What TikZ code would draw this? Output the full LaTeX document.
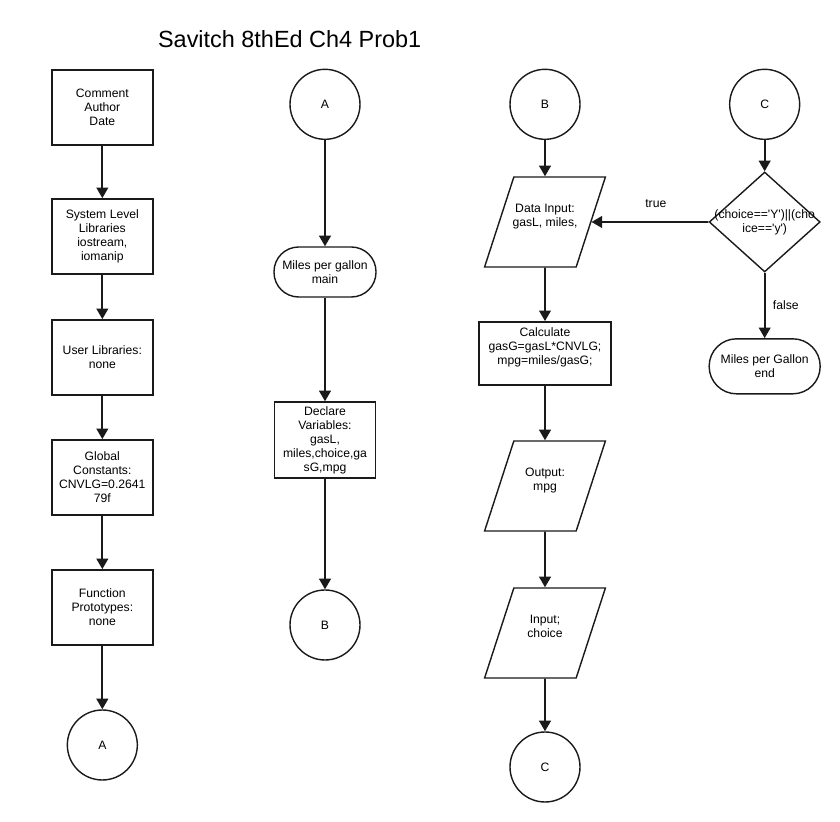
\documentclass[tikz,border=0pt]{standalone}
\usepackage{fontspec}
\setmainfont{Liberation Sans}
\newfontfamily\decfont{Liberation Sans}[Ligatures=TeXOff]
\definecolor{fcLine}{HTML}{1A1A1A}
\usetikzlibrary{positioning,arrows.meta,shapes.geometric}
\newcommand{\fcfont}{\fontsize{10.4}{11.9}\selectfont}
\newcommand{\iotext}[1]{\parbox[c][2.7cm][c]{1.87cm}{\centering #1}}

\tikzset{
  fcbox/.style={draw=fcLine, line width=1.2pt, minimum width=3.03cm, minimum height=2.25cm, align=center, font=\fcfont},
  fcconn/.style={draw=fcLine, circle, line width=1.2pt, minimum size=2.1cm, inner sep=0pt, font=\fcfont},
  fcterm/.style={draw=fcLine, line width=1.2pt, rounded corners=7.4mm, minimum width=3.06cm, minimum height=1.5cm, inner sep=1pt, align=center, font=\fcfont},
  fcio/.style={draw=fcLine, line width=1.2pt, trapezium, trapezium left angle=72, trapezium right angle=108, inner sep=0pt, font=\fcfont},
  fcdec/.style={draw=fcLine, line width=1.2pt, diamond, minimum width=3.33cm, minimum height=3cm, inner sep=0pt},
  fcflow/.style={draw=fcLine, line width=1.5pt, -{Triangle[length=9pt,width=10pt]}},
}

\begin{document}
\begin{tikzpicture}
  \fill[white] (0,0) rectangle (25.2,24.66);
  \useasboundingbox (0,0) rectangle (25.2,24.66);
  \node[font=\fontsize{20}{24}\selectfont] (title) at (8.69,23.49) {Savitch 8thEd Ch4 Prob1};

  % Left column: program header
  \node[fcbox] (cmt) at (3.07,21.44) {Comment\\Author\\Date};
  \node[fcbox] (syslib) at (3.07,17.57) {System Level\\Libraries\\iostream,\\iomanip};
  \node[fcbox] (usrlib) at (3.07,13.94) {User Libraries:\\none};
  \node[fcbox] (glbcon) at (3.07,10.34) {Global\\Constants:\\CNVLG=0.2641\\79f};
  \node[fcbox] (fnproto) at (3.07,6.44) {Function\\Prototypes:\\none};
  \node[fcconn] (conA1) at (3.07,2.31) {A};
  \draw[fcflow] (cmt) -- (syslib);
  \draw[fcflow] (syslib) -- (usrlib);
  \draw[fcflow] (usrlib) -- (glbcon);
  \draw[fcflow] (glbcon) -- (fnproto);
  \draw[fcflow] (fnproto) -- (conA1);

  % Second column: main start
  \node[fcconn] (conA2) at (9.75,21.53) {A};
  \node[fcterm] (mainbeg) at (9.75,16.5) {Miles per gallon\\main};
  \node[fcbox, minimum height=2.28cm] (decl) at (9.75,11.46) {Declare\\Variables:\\gasL,\\miles,choice,ga\\sG,mpg};
  \node[fcconn] (conB1) at (9.75,5.91) {B};
  \draw[fcflow] (conA2) -- (mainbeg);
  \draw[fcflow] (mainbeg) -- (decl);
  \draw[fcflow] (decl) -- (conB1);

  % Third column: input, calculation, output
  \node[fcconn] (conB2) at (16.35,21.53) {B};
  \node[fcio] (din) at (16.35,18.0) {\iotext{Data Input:\\\makebox[\linewidth]{gasL, miles,}\\\mbox{}}};
  \node[fcbox, minimum width=3.96cm, minimum height=1.89cm] (calc) at (16.35,14.06) {Calculate\\gasG=gasL*CNVLG;\\mpg=miles/gasG;\\\mbox{}};
  \node[fcio] (outp) at (16.35,10.08) {\iotext{Output:\\mpg\\\mbox{}}};
  \node[fcio] (inch) at (16.35,5.67) {\iotext{Input;\\choice\\\mbox{}}};
  \node[fcconn] (conC1) at (16.35,1.65) {C};
  \draw[fcflow] (conB2) -- (din);
  \draw[fcflow] (din) -- (calc);
  \draw[fcflow] (calc) -- (outp);
  \draw[fcflow] (outp) -- (inch);
  \draw[fcflow] (inch) -- (conC1);

  % Fourth column: repeat decision
  \node[fcconn] (conC2) at (22.94,21.53) {C};
  \node[fcdec, label={[font=\decfont\fontsize{10.4}{11.9}\selectfont, align=center]center:(choice=='Y')||(cho\\ice=='y')}] (dec) at (22.94,18.0) {};
  \node[fcterm, minimum width=3.33cm, minimum height=1.65cm, rounded corners=8.2mm] (endterm) at (22.94,13.67) {Miles per Gallon\\end};
  \draw[fcflow] (conC2) -- (dec);
  \draw[fcflow] (dec) -- node[pos=0.45, above=8pt, font=\fcfont] (lbltrue) {true} (din);
  \draw[fcflow] (dec) -- node[midway, right=3pt, font=\fcfont] (lblfalse) {false} (endterm);
\end{tikzpicture}
\end{document}
